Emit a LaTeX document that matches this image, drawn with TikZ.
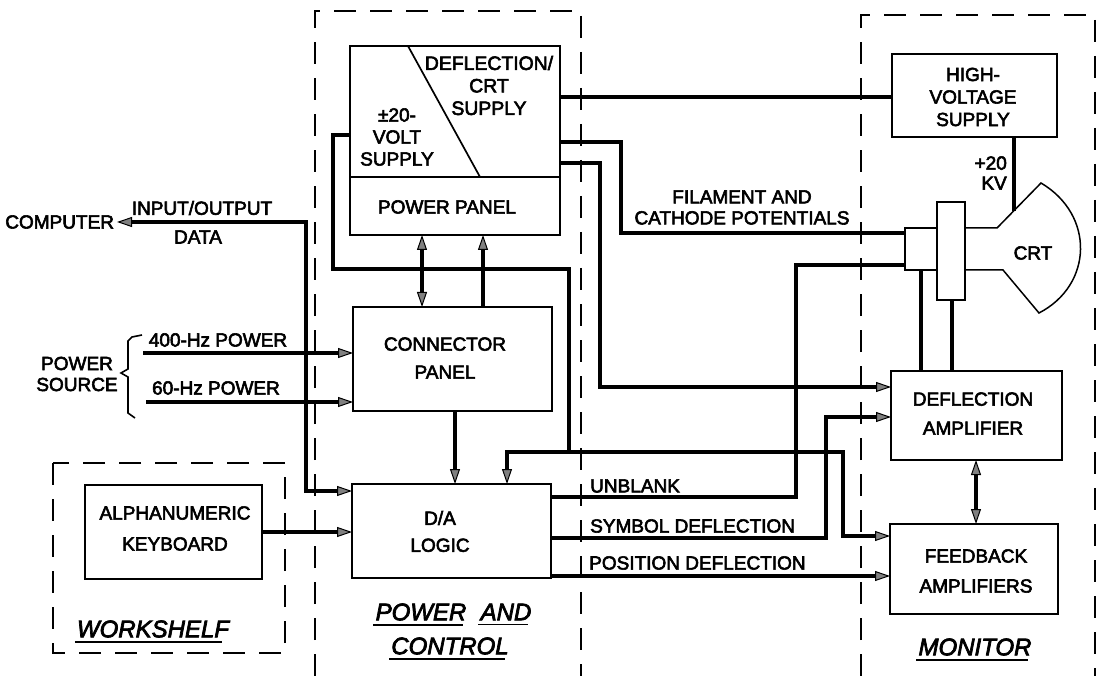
\documentclass[tikz,border=0pt]{standalone}
\usepackage{fontspec}
\setmainfont{Liberation Sans}[FakeBold=3]
\usetikzlibrary{arrows.meta,calc}
\newcommand{\lfs}[1]{\fontsize{19}{#1}\selectfont}
\begin{document}
\begin{tikzpicture}[x=1pt,y=-1pt,
  box/.style={draw,line width=2pt,inner sep=0pt,outer sep=0pt},
  conn/.style={line width=3.2pt},
  thin/.style={line width=1.5pt},
  dashbox/.style={line width=2.6pt,dash pattern=on 22pt off 14pt},
  lbl/.style={font=\lfs{23},align=center,inner sep=0pt},
  ttl/.style={font=\fontsize{24}{28}\selectfont\itshape,inner sep=0pt},
  uline/.style={line width=1.7pt},
  >={Triangle[length=15pt,width=10pt,fill=black!50,line width=1pt]},
]
\useasboundingbox (0,0) rectangle (1100,676);
\fill[white] (0,0) rectangle (1100,676);

% dashed enclosures
\draw[dashbox] (315,676) -- (315,11) -- (581,11) -- (581,676);
\draw[dashbox] (861,676) -- (861,15) -- (1095,15) -- (1095,676);
\draw[dashbox] (53,463) rectangle (285,653);

% boxes
\node[box,minimum width=210pt,minimum height=189pt] (pp) at (455,140.5) {};
\node[box,minimum width=165pt,minimum height=83pt] (hv) at (974.5,95.5) {};
\node[box,minimum width=199pt,minimum height=104pt] (cp) at (452.5,359) {};
\node[box,minimum width=199pt,minimum height=94pt] (da) at (451.5,531) {};
\node[box,minimum width=177pt,minimum height=94pt] (kb) at (173.5,532) {};
\node[box,minimum width=171pt,minimum height=89pt] (dfa) at (976.5,415.5) {};
\node[box,minimum width=168pt,minimum height=90pt] (fba) at (974,569) {};
\node[box,line width=1.5pt,minimum width=32pt,minimum height=42pt] (cbox) at (921,249) {};
\node[box,line width=1.5pt,minimum width=28pt,minimum height=98pt] (tbox) at (951,251) {};

% power panel internals
\coordinate (y177) at (0,177);
\draw[line width=2pt] (pp.west |- y177) -- (pp.east |- y177);
\draw[line width=1.7pt] ($(pp.north west)+(58,0)$) -- (480,177);

% CRT
\draw[thin] (tbox.east |- 0,228) -- (997,228) -- (1041,183)
  .. controls (1095,215) and (1093,285) .. (1039,313) -- (1003,270) -- (tbox.east |- 0,270);
\node[lbl] (crtl) at (1033,253) {CRT};

% texts in boxes
\node[lbl,font=\fontsize{19.4}{22.5}\selectfont] (t1) at (489,85.5) {DEFLECTION/\\CRT\\SUPPLY};
\node[lbl,font=\lfs{22}] (t2) at (397,137) {±20-\\VOLT\\SUPPLY};
\node[lbl] (t3) at (447,207) {POWER PANEL};
\node[lbl,font=\lfs{22.5}] (t4) at (973,97) {HIGH-\\VOLTAGE\\SUPPLY};
\node[lbl,font=\lfs{28}] (t5) at (445,358) {CONNECTOR\\PANEL};
\node[lbl,font=\lfs{27}] (t6) at (440,531.5) {D/A\\LOGIC};
\node[lbl,font=\lfs{31}] (t7) at (175,528.5) {ALPHANUMERIC\\KEYBOARD};
\node[lbl,font=\lfs{29}] (t8) at (973,413.5) {DEFLECTION\\AMPLIFIER};
\node[lbl,font=\lfs{30}] (t9) at (976,571) {FEEDBACK\\AMPLIFIERS};

% outside labels
\node[lbl,anchor=east,outer sep=3pt] (comp) at (117,222) {COMPUTER};
\node[lbl] (io) at (202,208) {INPUT/OUTPUT};
\node[lbl] (data) at (198,237) {DATA};
\node[lbl] (l400) at (218,340) {400-Hz POWER};
\node[lbl] (l60) at (216,388) {60-Hz POWER};
\node[lbl,font=\lfs{21}] (src) at (77,374) {POWER\\SOURCE};
\node[lbl,font=\lfs{20},align=right,anchor=east] (kv) at (1007,173) {+20\\KV};
\node[lbl,font=\lfs{21}] (fil) at (742,207.5) {FILAMENT AND\\CATHODE POTENTIALS};
\node[lbl,anchor=west] (ub) at (590,486) {UNBLANK};
\node[lbl,anchor=west] (sd) at (590,526) {SYMBOL DEFLECTION};
\node[lbl,anchor=west] (pd) at (589,563) {POSITION DEFLECTION};

% brace
\draw[line width=1.6pt] (142,335) -- (132,337) -- (128,341) -- (128,369) -- (121,373)
  -- (128,377) -- (128,413) -- (135,418);

% section titles
\node[ttl] (ws) at (153,629) {WORKSHELF};
\draw[uline] ($(ws.south west)+(-2,4)$) -- ($(ws.south east)+(-7,4)$);
\node[ttl] (pw) at (421,612) {POWER};
\draw[uline] ($(pw.south west)+(-2,4)$) -- ($(pw.south east)+(-4,4)$);
\node[ttl] (an) at (506,612) {AND};
\draw[uline] ($(an.south west)+(-2,4)$) -- ($(an.south east)+(-4,4)$);
\node[ttl] (ct) at (450,646) {CONTROL};
\draw[uline] ($(ct.south west)+(-2,4)$) -- ($(ct.south east)+(-4,4)$);
\node[ttl] (mo) at (975,647) {MONITOR};
\draw[uline] ($(mo.south west)+(-2,4)$) -- ($(mo.south east)+(-4,4)$);

% connectors
\coordinate (ioc) at (306,222);
\coordinate (iod) at (306,491);
\draw[conn,<->] (comp.east) -- (ioc) -- (iod) -- (iod -| da.west);

\coordinate (p400) at (143,353);
\draw[conn,->] (p400) -- (p400 -| cp.west);
\coordinate (p60) at (146,402);
\draw[conn,->] (p60) -- (p60 -| cp.west);

\draw[conn,->] (kb.east) -- (kb.east -| da.west);

\coordinate (x422) at (422,0);
\draw[conn,<->] (pp.south -| x422) -- (cp.north -| x422);
\coordinate (x483) at (483,0);
\draw[conn,->] (cp.north -| x483) -- (pp.south -| x483);
\coordinate (x455) at (455,0);
\draw[conn,->] (cp.south -| x455) -- (da.north -| x455);

\coordinate (L1) at (333,135);
\coordinate (L2) at (333,269);
\coordinate (L3) at (569,269);
\coordinate (J) at (569,452);
\coordinate (L4) at (507,452);
\coordinate (L5) at (843,452);
\coordinate (L6) at (843,536);
\draw[conn] (pp.west |- L1) -- (L1) -- (L2) -- (L3) -- (J);
\draw[conn,->] (J) -- (L4) -- (L4 |- da.north);
\draw[conn,->] (J) -- (L5) -- (L6) -- (L6 -| fba.west);

\coordinate (H1) at (0,97);
\draw[conn] (pp.east |- H1) -- (hv.west |- H1);

\coordinate (F1) at (621,142);
\coordinate (F2) at (621,233);
\draw[conn] (pp.east |- F1) -- (F1) -- (F2) -- (F2 -| cbox.west);

\coordinate (D1) at (600,163);
\coordinate (D2) at (600,387);
\draw[conn,->] (pp.east |- D1) -- (D1) -- (D2) -- (D2 -| dfa.west);

\coordinate (U1) at (796,497);
\coordinate (U2) at (796,265);
\draw[conn] (da.east |- U1) -- (U1) -- (U2) -- (U2 -| cbox.west);

\coordinate (S1) at (826,538);
\coordinate (S2) at (826,417);
\draw[conn,->] (da.east |- S1) -- (S1) -- (S2) -- (S2 -| dfa.west);

\coordinate (P1) at (0,576);
\draw[conn,->] (da.east |- P1) -- (P1 -| fba.west);

\coordinate (x921) at (921,0);
\coordinate (x952) at (952,0);
\draw[conn] (cbox.south -| x921) -- (dfa.north -| x921);
\draw[conn] (tbox.south -| x952) -- (dfa.north -| x952);

\coordinate (x976) at (976,0);
\draw[conn,<->] (dfa.south -| x976) -- (fba.north -| x976);

\coordinate (crtin) at (1014,211);
\draw[conn] (hv.south -| crtin) -- (crtin);
\end{tikzpicture}
\end{document}
